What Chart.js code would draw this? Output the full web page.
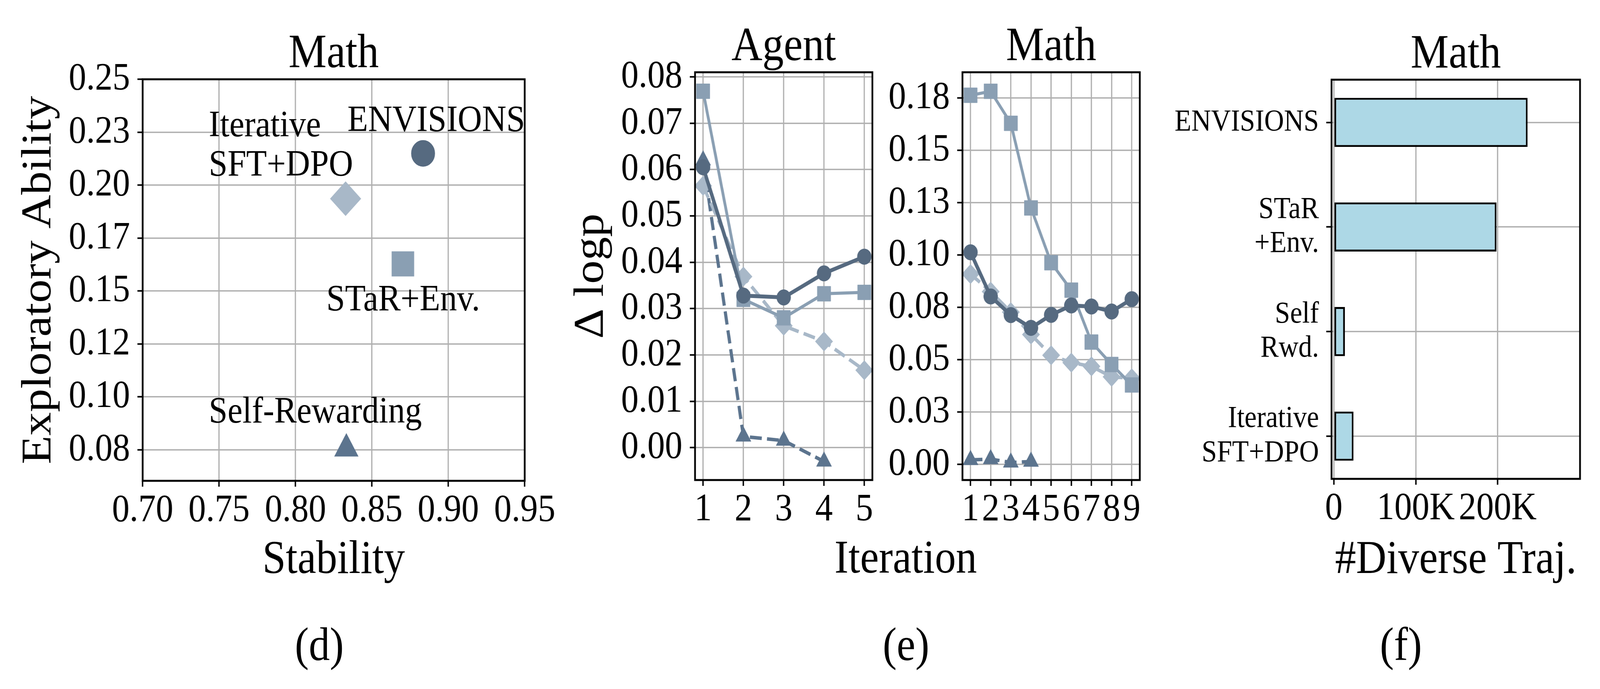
<!DOCTYPE html>
<html>
<head>
<meta charset="utf-8">
<script src="https://cdn.jsdelivr.net/npm/chart.js@4.4.0/dist/chart.umd.min.js"></script>
<style>
    html, body { margin: 0; padding: 0; background: #fff; overflow: hidden; }
    #page { position: relative; width: 4565px; height: 1764px; overflow: hidden; transform-origin: 0 0;
            font-family: "Liberation Serif", "DejaVu Serif", serif; }
    #page canvas { position: absolute; left: 0; top: 0; }
    .txt { position: absolute; line-height: 1; white-space: nowrap; transform: translateX(-50%); color: #000; }
</style>
</head>
<body>
<div id="page">
    <canvas id="chartD" width="4565" height="1764"></canvas>
    <canvas id="chartAgent" width="4565" height="1764"></canvas>
    <canvas id="chartMath" width="4565" height="1764"></canvas>
    <canvas id="chartF" width="4565" height="1764"></canvas>
    <div class="txt" style="left:2584px; top:1366px; font-size:120px;">Iteration</div>
    <div class="txt" style="left:911px; top:1590px; font-size:120px;">(d)</div>
    <div class="txt" style="left:2585px; top:1590px; font-size:120px;">(e)</div>
    <div class="txt" style="left:3997px; top:1590px; font-size:120px;">(f)</div>
</div>
<script>
// ---- data ----
var methods = ['ENVISIONS', 'STaR+Env.', 'Iterative SFT+DPO', 'Self-Rewarding'];
var colors = ['#566a80', '#8a9fb3', '#a8b8c8', '#5c748e'];
var markers = ['circle', 'rect', 'rectRot', 'triangle'];

// (d) Math: stability vs exploratory ability
var stability = [0.8835, 0.8703, 0.8328, 0.8333];
var exploratory = [0.2150, 0.1628, 0.1936, 0.0755];
var stabTicks = [0.70, 0.75, 0.80, 0.85, 0.90, 0.95];
var stabLabels = ['0.70', '0.75', '0.80', '0.85', '0.90', '0.95'];
var explTicks = [0.075, 0.1, 0.125, 0.15, 0.175, 0.2, 0.225, 0.25];
var explLabels = ['0.08', '0.10', '0.12', '0.15', '0.17', '0.20', '0.23', '0.25'];

// (e) delta logp per iteration
var agentIters = [1, 2, 3, 4, 5];
var agentEnvisions = [0.0605, 0.0328, 0.0324, 0.0376, 0.0412];
var agentStar = [0.0769, 0.0320, 0.0280, 0.0332, 0.0335];
var agentSftDpo = [0.0565, 0.0369, 0.0263, 0.0229, 0.0167];
var agentSelfRwd = [0.0620, 0.0024, 0.0015, -0.0030];
var agentTicks = [0, 0.01, 0.02, 0.03, 0.04, 0.05, 0.06, 0.07, 0.08];
var agentLabels = ['0.00', '0.01', '0.02', '0.03', '0.04', '0.05', '0.06', '0.07', '0.08'];

var mathIters = [1, 2, 3, 4, 5, 6, 7, 8, 9];
var mathEnvisions = [0.1013, 0.0802, 0.0713, 0.0652, 0.0714, 0.0759, 0.0754, 0.0730, 0.0789];
var mathStar = [0.1763, 0.1782, 0.1629, 0.1225, 0.0963, 0.0832, 0.0584, 0.0477, 0.0379];
var mathSftDpo = [0.0909, 0.0825, 0.0727, 0.0620, 0.0521, 0.0486, 0.0468, 0.0418, 0.0411];
var mathSelfRwd = [0.0021, 0.0025, 0.0009, 0.0013];
var mathTicks = [0, 0.025, 0.05, 0.075, 0.1, 0.125, 0.15, 0.175];
var mathLabels = ['0.00', '0.03', '0.05', '0.08', '0.10', '0.13', '0.15', '0.18'];

// (f) Math: number of diverse trajectories
var barNames = [['ENVISIONS'], ['STaR', '+Env.'], ['Self', 'Rwd.'], ['Iterative', 'SFT+DPO']];
var diverseTraj = [236500, 198500, 13500, 24000];
var trajTicks = [0, 100000, 200000];
var trajLabels = ['0', '100K', '200K'];

var FONT = '"Liberation Serif", "DejaVu Serif", serif';
var PAGE_W = 4565, PAGE_H = 1764;
var Y_W = 260, X_H = 160;   // fixed scale box sizes (labels are clipped to them)

// the window may be narrower than the figure: squeeze the whole page to fit it
var kx = Math.min(1, window.innerWidth / PAGE_W);
var ky = Math.min(1, window.innerHeight / PAGE_H);
document.getElementById('page').style.transform = 'scale(' + kx + ',' + ky + ')';

// padding so the plot box lands where it is in the figure
function placeArea(l, t, r, b, yW) {
    return { left: l - yW, top: t, right: PAGE_W - r, bottom: PAGE_H - b - X_H };
}

function linearAxis(min, max, ticks, labels, isX, extra, boxSize) {
    var ax = {
        type: 'linear',
        min: min,
        max: max,
        offset: false,
        afterBuildTicks: function (scale) {
            scale.ticks = ticks.map(function (v) { return { value: v }; });
        },
        afterFit: function (scale) {
            if (isX) { scale.height = X_H; } else { scale.width = boxSize || Y_W; }
        },
        ticks: {
            callback: function (v, i) { return labels[i]; },
            autoSkip: false,
            maxRotation: 0,
            minRotation: 0,
            color: '#000',
            padding: isX ? 2 : 21,
            font: { family: FONT, size: 100 }
        },
        grid: { offset: false, color: '#b0b0b0', lineWidth: 3.5, tickColor: '#000', tickLength: 15, tickWidth: 4 },
        border: { display: false }
    };
    return Object.assign(ax, extra || {});
}

// frame, titles, axis labels and in-plot notes
var panelText = {
    id: 'panelText',
    afterDatasetsDraw: function (chart, args, opts) {
        var ctx = chart.ctx, a = chart.chartArea;
        ctx.save();
        ctx.strokeStyle = '#000';
        ctx.lineWidth = 5;
        ctx.strokeRect(a.left, a.top, a.right - a.left, a.bottom - a.top);
        ctx.fillStyle = '#000';
        ctx.textBaseline = 'alphabetic';
        ctx.textAlign = 'center';
        if (opts.title) {
            ctx.font = '122px ' + FONT;
            ctx.fillText(opts.title, (a.left + a.right) / 2, a.top - 31);
        }
        ctx.font = '120px ' + FONT;
        if (opts.xLabel) {
            ctx.fillText(opts.xLabel, (a.left + a.right) / 2, 1467);
        }
        if (opts.yLabel) {
            ctx.save();
            ctx.translate(a.left - 263, (a.top + a.bottom) / 2);
            ctx.rotate(-Math.PI / 2);
            ctx.fillText(opts.yLabel, 0, 0);
            ctx.restore();
        }
        if (opts.notes) {
            var xs = chart.scales.x, ys = chart.scales.y;
            ctx.font = '96px ' + FONT;
            ctx.textAlign = 'left';
            opts.notes.forEach(function (n) {
                ctx.fillText(n.text, xs.getPixelForValue(n.x), ys.getPixelForValue(n.y));
            });
        }
        ctx.restore();
    }
};

var baseOptions = function (area, axes, texts) {
    return {
        responsive: false,
        animation: false,
        devicePixelRatio: 1,
        layout: { padding: area },
        scales: axes,
        plugins: { legend: { display: false }, tooltip: { enabled: false }, panelText: texts }
    };
};

// ---- (d) scatter ----
var scatterSizes = [33, 44, 43, 38];
new Chart(document.getElementById('chartD'), {
    type: 'scatter',
    data: {
        datasets: methods.map(function (m, i) {
            return {
                label: m,
                data: [{ x: stability[i], y: exploratory[i] }],
                pointStyle: markers[i],
                pointRadius: scatterSizes[i],
                backgroundColor: colors[i],
                borderColor: colors[i],
                borderWidth: 2,
                clip: false
            };
        })
    },
    options: baseOptions(placeArea(407, 203, 1497, 1231, Y_W), {
        x: linearAxis(0.70, 0.95, stabTicks, stabLabels, true),
        y: linearAxis(0.0603, 0.25, explTicks, explLabels, false)
    }, {
        title: 'Math',
        xLabel: 'Stability',
        yLabel: 'Exploratory Ability',
        notes: [
            { text: 'Iterative', x: 0.7433, y: 0.2231 },
            { text: 'SFT+DPO', x: 0.7433, y: 0.2045 },
            { text: 'ENVISIONS', x: 0.834, y: 0.2254 },
            { text: 'STaR+Env.', x: 0.8202, y: 0.1408 },
            { text: 'Self-Rewarding', x: 0.7433, y: 0.0878 }
        ]
    }),
    plugins: [panelText]
});

// ---- (e) delta logp lines ----
var lineWidths = [10, 8, 9, 9];
var lineDash = [[], [], [34, 15], [34, 15]];
var lineSizes = [20, 27, 25, 25];

function lineSets(iters, series) {
    return series.map(function (vals, i) {
        return {
            label: methods[i],
            data: vals.map(function (v, k) { return { x: iters[k], y: v }; }),
            borderColor: colors[i],
            backgroundColor: colors[i],
            borderWidth: lineWidths[i],
            borderDash: lineDash[i],
            pointStyle: markers[i],
            pointRadius: lineSizes[i],
            pointBorderWidth: 1,
            pointBackgroundColor: colors[i],
            pointBorderColor: colors[i],
            tension: 0,
            fill: false,
            clip: false
        };
    });
}

new Chart(document.getElementById('chartAgent'), {
    type: 'line',
    data: { datasets: lineSets(agentIters, [agentEnvisions, agentStar, agentSftDpo, agentSelfRwd]) },
    options: baseOptions(placeArea(1983, 185, 2489, 1229, Y_W), {
        x: linearAxis(0.8, 5.2, agentIters, agentIters.map(String), true),
        y: linearAxis(-0.007, 0.081, agentTicks, agentLabels, false)
    }, { title: 'Agent', yLabel: '\u0394 logp' }),
    plugins: [panelText]
});

new Chart(document.getElementById('chartMath'), {
    type: 'line',
    data: { datasets: lineSets(mathIters, [mathEnvisions, mathStar, mathSftDpo, mathSelfRwd]) },
    options: baseOptions(placeArea(2746, 185, 3252, 1229, Y_W), {
        x: linearAxis(0.6, 9.4, mathIters, mathIters.map(String), true),
        y: linearAxis(-0.0075, 0.1873, mathTicks, mathLabels, false)
    }, { title: 'Math' }),
    plugins: [panelText]
});

// ---- (f) horizontal bars ----
var F_YW = 560;
var barIdx = barNames.map(function (n, i) { return i; });
var yBar = linearAxis(-0.4085, 3.4085, barIdx, barNames, false, { reverse: true }, F_YW);
yBar.ticks.font = { family: FONT, size: 78, lineHeight: 1.12 };

new Chart(document.getElementById('chartF'), {
    type: 'bar',
    data: {
        datasets: [{
            label: '#Diverse Traj.',
            data: diverseTraj.map(function (v, i) { return { x: v, y: barIdx[i] }; }),
            backgroundColor: '#add8e6',
            borderColor: '#000',
            borderWidth: 5,
            borderSkipped: false,
            categoryPercentage: 1,
            barPercentage: 0.47
        }]
    },
    options: Object.assign(baseOptions(placeArea(3799, 204, 4508, 1226, F_YW), {
        x: linearAxis(-2800, 300500, trajTicks, trajLabels, true),
        y: yBar
    }, { title: 'Math', xLabel: '#Diverse Traj.' }), { indexAxis: 'y' }),
    plugins: [panelText]
});
</script>
</body>
</html>
